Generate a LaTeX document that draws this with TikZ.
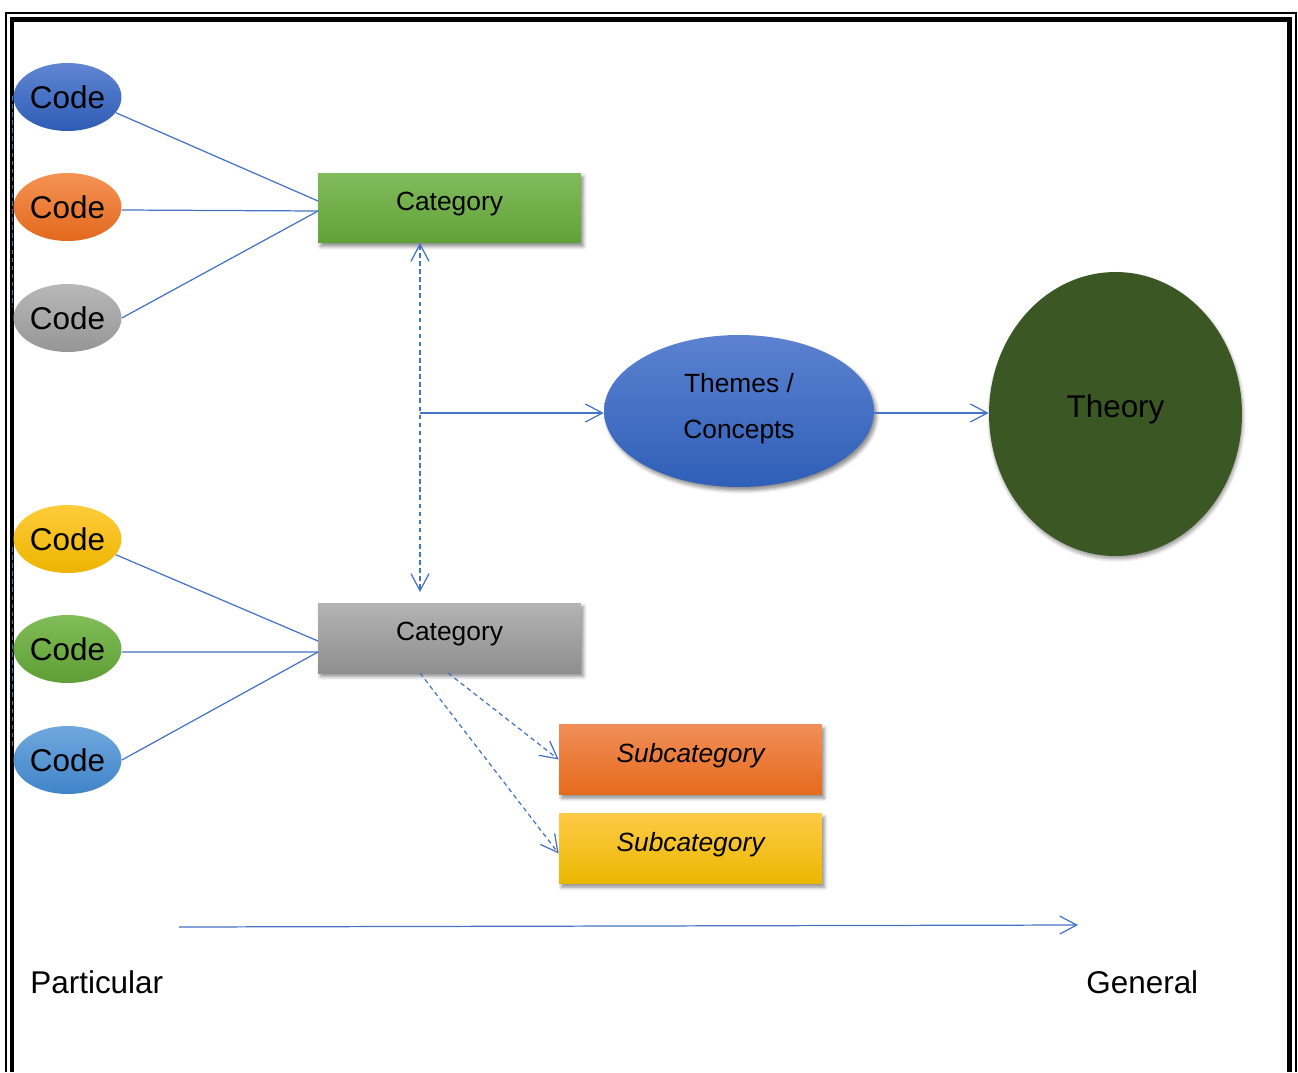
\documentclass[tikz,border=0pt]{standalone}
\usepackage{fontspec}
\setmainfont{Liberation Sans}
\usetikzlibrary{shapes.geometric,arrows.meta,shadows.blur}

\definecolor{linkblue}{HTML}{4472C4}
\definecolor{theorygreen}{HTML}{3A5724}
\definecolor{blueT}{RGB}{96,134,210}    \definecolor{blueB}{RGB}{46,92,181}
\definecolor{orangeT}{RGB}{244,146,85}  \definecolor{orangeB}{RGB}{226,105,28}
\definecolor{greyT}{RGB}{184,184,184}   \definecolor{greyB}{RGB}{150,150,150}
\definecolor{goldT}{RGB}{255,204,58}    \definecolor{goldB}{RGB}{236,180,0}
\definecolor{greenT}{RGB}{128,188,88}   \definecolor{greenB}{RGB}{94,158,52}
\definecolor{skyT}{RGB}{112,168,222}    \definecolor{skyB}{RGB}{64,132,200}
\definecolor{catgT}{RGB}{128,188,92}    \definecolor{catgB}{RGB}{98,161,56}
\definecolor{catsT}{RGB}{180,180,180}   \definecolor{catsB}{RGB}{142,142,142}
\definecolor{subOT}{RGB}{241,142,88}    \definecolor{subOB}{RGB}{228,107,28}
\definecolor{subYT}{RGB}{255,202,70}    \definecolor{subYB}{RGB}{234,184,0}
\definecolor{themeT}{RGB}{92,130,208}   \definecolor{themeB}{RGB}{47,95,184}

\tikzset{
  big/.style={font=\fontsize{17.9pt}{21pt}\selectfont},
  small/.style={font=\fontsize{15pt}{18pt}\selectfont},
  link/.style={draw=linkblue, line width=0.7pt},
  dashlink/.style={link, dash pattern=on 2.6pt off 2pt},
  opentip/.style={-{Straight Barb[length=0.34cm,width=0.36cm]}},
  bothtips/.style={{Straight Barb[length=0.34cm,width=0.36cm]}-{Straight Barb[length=0.34cm,width=0.36cm]}},
  softshadow/.style={blur shadow={shadow xshift=0.05cm, shadow yshift=-0.07cm,
      shadow blur radius=0.07cm, shadow opacity=45}},
  code/.style 2 args={ellipse, big, inner sep=0pt, minimum width=2.16cm, minimum height=1.36cm,
      top color=#1, bottom color=#2},
  card/.style 2 args={rectangle, inner sep=0pt, minimum width=5.26cm, minimum height=1.4cm,
      softshadow, top color=#1, bottom color=#2},
}

\begin{document}
\begin{tikzpicture}[x=0.02cm, y=-0.02cm]
\useasboundingbox (0,0) rectangle (1298,1072);

% page frame: thin outer line and thick inner line
\draw[line width=0.03cm] (6,1072) -- (6,13) -- (1296,13) -- (1296,1072);
\draw[line width=0.1cm] (12,1072) -- (12,19.5) -- (1289.5,19.5) -- (1289.5,1072);

% faint dashed guides along the left edge
\coordinate (g1a) at (12.5,96);  \coordinate (g1b) at (12.5,307);
\coordinate (g2a) at (12.5,547); \coordinate (g2b) at (12.5,747);
\draw[dashlink, line width=0.5pt] (g1a) -- (g1b);
\draw[dashlink, line width=0.5pt] (g2a) -- (g2b);

% codes
\node[code={blueT}{blueB}]     (c1) at (67.5,97)  {Code};
\node[code={orangeT}{orangeB}] (c2) at (67.5,207) {Code};
\node[code={greyT}{greyB}]     (c3) at (67.5,318) {Code};
\node[code={goldT}{goldB}]     (c4) at (67.5,539) {Code};
\node[code={greenT}{greenB}]   (c5) at (67.5,649) {Code};
\node[code={skyT}{skyB}]       (c6) at (67.5,760) {Code};

% categories and subcategories
\node[card={catgT}{catgB}] (cat1) at (449.5,208) {};
\node[small, anchor=base] (cat1t) at (449.5,210) {Category};
\node[card={catsT}{catsB}] (cat2) at (449.5,638) {};
\node[small, anchor=base] (cat2t) at (449.5,640) {Category};
\node[card={subOT}{subOB}] (sub1) at (690.5,759.5) {};
\node[small, anchor=base] (sub1t) at (690.5,762) {\itshape Subcategory};
\node[card={subYT}{subYB}] (sub2) at (690.5,848.5) {};
\node[small, anchor=base] (sub2t) at (690.5,851) {\itshape Subcategory};

% themes and theory
\node[ellipse, inner sep=0pt, minimum width=5.4cm, minimum height=3.04cm, softshadow,
      top color=themeT, bottom color=themeB] (themes) at (739,411) {};
\node[small, anchor=base] (th1) at (739,392) {Themes /};
\node[small, anchor=base] (th2) at (739,438) {Concepts};
\node[ellipse, inner sep=0pt, minimum width=5.06cm, minimum height=5.68cm, fill=theorygreen,
      blur shadow={shadow xshift=0.02cm, shadow yshift=-0.06cm, shadow blur radius=0.07cm, shadow opacity=40}] (theory) at (1115.5,414) {};
\node[big, anchor=base] (theoryt) at (1115.5,417) {Theory};

% codes to categories
\coordinate (k1a) at (318,201); \coordinate (k1b) at (318,211);
\coordinate (k2a) at (318,641); \coordinate (k2b) at (318,652);
\draw[link] (c1.-18) -- (k1a);
\draw[link] ([yshift=-0.06cm]c2.east) -- (k1b);
\draw[link] (c3.east) -- (k1b);
\draw[link] (c4.-18) -- (k2a);
\draw[link] ([yshift=-0.06cm]c5.east) -- (k2b);
\draw[link] (c6.east) -- (k2b);

% links between categories and onwards
\coordinate (v1) at (420,243); \coordinate (v2) at (420,592);
\coordinate (h1) at (420,413);
\draw[dashlink, bothtips] (v1) -- (v2);
\draw[link, opentip] (h1) -- (h1 -| themes.west);
\draw[link, opentip] (h1 -| themes.east) -- (h1 -| theory.west);

\coordinate (s1) at (448,673); \coordinate (s2) at (420,673);
\draw[dashlink, opentip] (s1) -- (sub1.west);
\draw[dashlink, opentip] (s2) -- ([yshift=-0.1cm]sub2.west);

% particular to general scale
\coordinate (a1) at (179,927); \coordinate (a2) at (1078,925);
\draw[link, opentip] (a1) -- (a2);
\node[big, anchor=base west, inner sep=0pt] (part) at (30,993) {Particular};
\node[big, anchor=base west, inner sep=0pt] (gen) at (1086,993) {General};
\end{tikzpicture}
\end{document}
